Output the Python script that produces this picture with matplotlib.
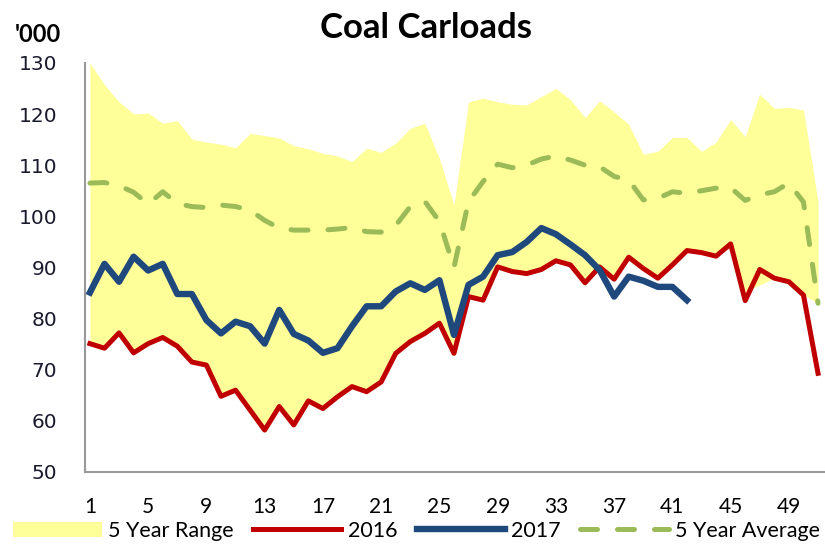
import numpy as np
import matplotlib
matplotlib.use("Agg")
from matplotlib import pyplot as plt

weeks = np.arange(1, 52)

range_high = [130.0, 125.7, 122.4, 120.0, 120.2, 118.2, 118.7, 115.1, 114.5, 114.1,
              113.4, 116.2, 115.8, 115.3, 113.8, 113.2, 112.3, 111.8, 110.7, 113.3,
              112.5, 114.3, 117.2, 118.2, 111.3, 102.2, 122.4, 123.1, 122.4, 121.9,
              121.8, 123.4, 125.0, 122.8, 119.3, 122.6, 120.4, 118.0, 112.1, 112.7,
              115.4, 115.4, 112.7, 114.5, 118.9, 115.6, 123.9, 121.1, 121.3, 120.8,
              102.9]

y2016 = [75.1, 74.2, 77.2, 73.3, 75.1, 76.3, 74.6, 71.5, 70.9, 64.8,
         66.0, 62.1, 58.2, 62.8, 59.2, 63.9, 62.4, 64.7, 66.7, 65.7,
         67.6, 73.2, 75.5, 77.1, 79.1, 73.2, 84.3, 83.6, 90.1, 89.2,
         88.8, 89.6, 91.3, 90.5, 87.0, 90.1, 87.7, 92.0, 89.8, 87.9,
         90.5, 93.3, 92.9, 92.2, 94.6, 83.5, 89.6, 87.9, 87.2, 84.6,
         69.3]

# lower edge of the range follows 2016 except in the last weeks
range_low = y2016[:45] + [85.2, 86.6, 87.9, 87.2, 84.6, 83.0]

y2017 = [85.1, 90.7, 87.2, 92.1, 89.4, 90.7, 84.8, 84.8, 79.7, 77.1,
         79.4, 78.5, 75.1, 81.7, 77.0, 75.7, 73.3, 74.2, 78.5, 82.4,
         82.4, 85.3, 86.9, 85.6, 87.5, 76.8, 86.6, 88.2, 92.4, 93.0,
         95.0, 97.7, 96.5, 94.5, 92.4, 89.5, 84.3, 88.2, 87.4, 86.2,
         86.2, 83.6]

avg5 = [106.5, 106.6, 106.0, 104.7, 102.4, 104.8, 102.5, 101.9, 101.7, 102.2,
        101.9, 101.2, 99.2, 97.7, 97.3, 97.3, 97.3, 97.5, 97.8, 97.0,
        96.9, 98.2, 101.9, 102.9, 99.0, 90.0, 102.9, 106.8, 110.2, 109.5,
        110.0, 111.2, 111.8, 111.0, 110.0, 109.7, 107.8, 107.1, 103.2, 103.5,
        104.8, 104.5, 105.0, 105.5, 105.6, 103.1, 104.2, 104.8, 106.5, 102.8,
        83.0]

xticks = list(range(1, 50, 4))

fig = plt.figure(figsize=(8.25, 5.44), dpi=100)
ax = fig.add_axes([0.103, 0.1324, 0.897, 0.752])

ax.fill_between(weeks, range_low, range_high, color='#FFFF99', linewidth=0,
                label='5 Year Range', zorder=1)
ax.plot(weeks, y2016, color='#C00000', linewidth=3.6, label='2016', zorder=3,
        solid_joinstyle='round')
ax.plot(np.arange(1, len(y2017) + 1), y2017, color='#1F497D', linewidth=4.6,
        label='2017', zorder=4, solid_joinstyle='round')
ax.plot(weeks, avg5, color='#9BBB59', linewidth=3.6, dashes=(3.4, 4.0),
        dash_capstyle='round', label='5 Year Average', zorder=2)

ax.set_xlim(0.66, 51.48)
ax.set_ylim(50, 130)
ax.set_yticks(range(50, 131, 10))
ax.set_xticks(xticks)
ax.tick_params(length=0)
ax.tick_params(axis='y', labelsize=14.5, pad=20, labelcolor='#1a1a2e')
for lbl in ax.get_xticklabels():
    lbl.set_fontfamily('Lato')
    lbl.set_fontsize(15)
ax.tick_params(axis='x', pad=18)

for side in ['top', 'right']:
    ax.spines[side].set_visible(False)
for side in ['left', 'bottom']:
    ax.spines[side].set_color('#999999')
    ax.spines[side].set_linewidth(1.5)

fig.text(0.516, 0.948, 'Coal Carloads', ha='center', va='center',
         fontsize=25, fontweight='bold', family='Lato')
fig.text(0.018, 0.937, "'000", ha='left', va='center',
         fontsize=17, fontweight='bold', family='Lato')

fig.legend(loc='lower center', bbox_to_anchor=(0.505, -0.03), ncol=4,
           frameon=False, handlelength=4.1, columnspacing=0.9,
           handletextpad=0.3, prop={'family': 'Lato', 'size': 15.5})

fig.savefig('out.png', dpi=100)
